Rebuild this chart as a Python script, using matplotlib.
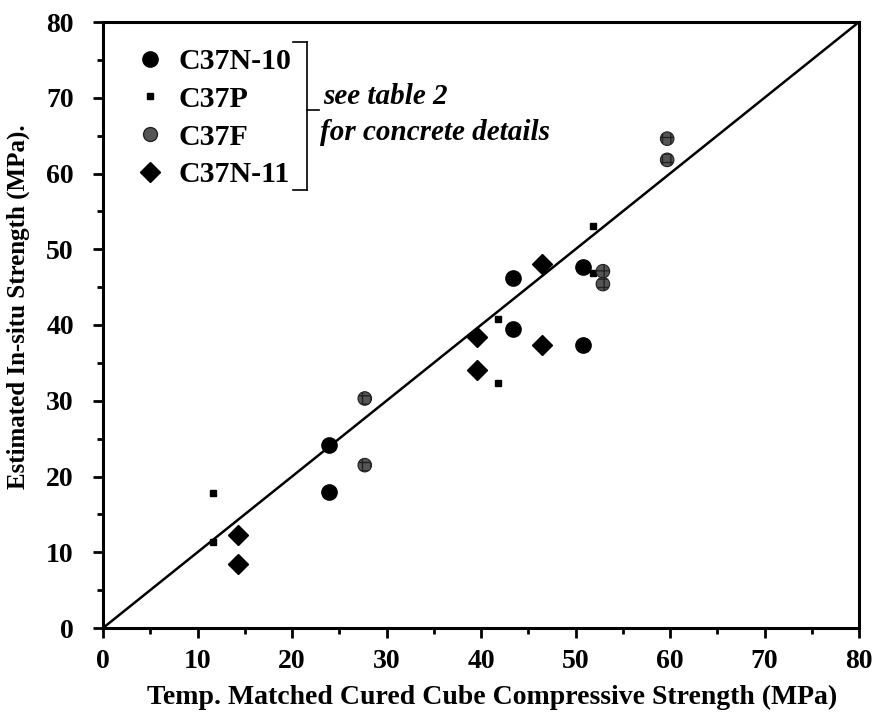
import matplotlib
matplotlib.use("Agg")
import matplotlib.pyplot as plt
from matplotlib.lines import Line2D

plt.rcParams['font.family'] = ['Liberation Serif', 'DejaVu Serif']

# Data (MPa)
n10_x = [23.9, 23.9, 43.4, 43.4, 50.8, 50.8]
n10_y = [24.1, 18.0, 46.2, 39.5, 47.7, 37.3]
p_x = [11.6, 11.6, 41.8, 41.8, 51.8, 51.8]
p_y = [17.8, 11.4, 40.8, 32.4, 53.1, 46.9]
f_x = [27.7, 27.7, 59.7, 59.7, 52.9, 52.9]
f_y = [30.3, 21.5, 64.6, 61.8, 47.1, 45.4]
n11_x = [14.3, 14.3, 39.6, 39.6, 46.5, 46.5]
n11_y = [12.3, 8.4, 38.4, 34.1, 48.1, 37.3]
labels = ["C37N-10", "C37P", "C37F", "C37N-11"]
ticks = [0, 10, 20, 30, 40, 50, 60, 70, 80]

fig = plt.figure(figsize=(8.75, 7.13), dpi=100)
ax = fig.add_axes([103/875, 1-628/713, (859-103)/875, (628-22)/713])

ax.plot([0, 80], [0, 80], color='black', lw=1.8, zorder=2)
ax.plot(n10_x, n10_y, 'o', color='black', ms=11, ls='none', zorder=3)
ax.plot(p_x, p_y, 's', color='black', ms=4.5, ls='none', zorder=3)
ax.scatter(f_x, f_y, s=95, facecolor='#555555', edgecolor='#222222',
           hatch='++', linewidths=0.8, zorder=3)
ax.plot(n11_x, n11_y, 'D', color='black', ms=10.5, ls='none', zorder=3)

ax.set_xlim(0, 80)
ax.set_ylim(0, 80)
ax.set_xticks(ticks)
ax.set_yticks(ticks)
ax.set_xticks(range(5, 80, 10), minor=True)
ax.set_yticks(range(5, 80, 10), minor=True)
ax.tick_params(which='major', direction='out', length=7, width=2,
               labelsize=20)
ax.tick_params(axis='x', which='major', pad=8)
ax.tick_params(axis='y', which='major', pad=14)
ax.tick_params(which='minor', direction='out', length=4, width=2)
for lab in ax.get_xticklabels() + ax.get_yticklabels():
    lab.set_fontweight('bold')
for s in ax.spines.values():
    s.set_linewidth(2.2)

ax.set_xlabel("Temp. Matched Cured Cube Compressive Strength (MPa)",
              fontsize=20, fontweight='bold')
ax.xaxis.set_label_coords(0.5146, -0.094)
ax.set_ylabel("Estimated In-situ Strength (MPa).", fontsize=18,
              fontweight='bold')
ax.yaxis.set_label_coords(-0.097, 0.531)

handles = [
    Line2D([], [], marker='o', color='black', ls='none', ms=11),
    Line2D([], [], marker='s', color='black', ls='none', ms=4.5),
    Line2D([], [], marker='o', markerfacecolor='#555555',
           markeredgecolor='#222222', ls='none', ms=10),
    Line2D([], [], marker='D', color='black', ls='none', ms=10.5),
]
leg = ax.legend(handles, labels, loc='upper left', frameon=False,
                bbox_to_anchor=(0.0425, 0.957), borderpad=0, borderaxespad=0,
                handletextpad=0.45, labelspacing=0.36, handlelength=1.0,
                prop={'family': 'Liberation Serif', 'weight': 'bold',
                      'size': 21.5})

# bracket
T = ax.transAxes
def px(x, y):
    return ((x-103)/756, (628-y)/606)
bx = px(307, 0)[0]
ytop = px(0, 42)[1]
ybot = px(0, 190)[1]
ymid = px(0, 110)[1]
ax.plot([px(293, 0)[0], bx], [ytop, ytop], color='black', lw=1.2, transform=T, clip_on=False)
ax.plot([bx, bx], [ytop, ybot], color='black', lw=1.2, transform=T, clip_on=False)
ax.plot([px(293, 0)[0], bx], [ybot, ybot], color='black', lw=1.2, transform=T, clip_on=False)
ax.plot([bx, px(319, 0)[0]], [ymid, ymid], color='black', lw=1.2, transform=T, clip_on=False)
ax.text(*px(323, 97), "see table 2", transform=T, fontsize=21,
        style='italic', fontweight='bold', va='center', ha='left')
ax.text(*px(320, 133), "for concrete details", transform=T, fontsize=21,
        style='italic', fontweight='bold', va='center', ha='left')

fig.savefig("out.png", dpi=100)
